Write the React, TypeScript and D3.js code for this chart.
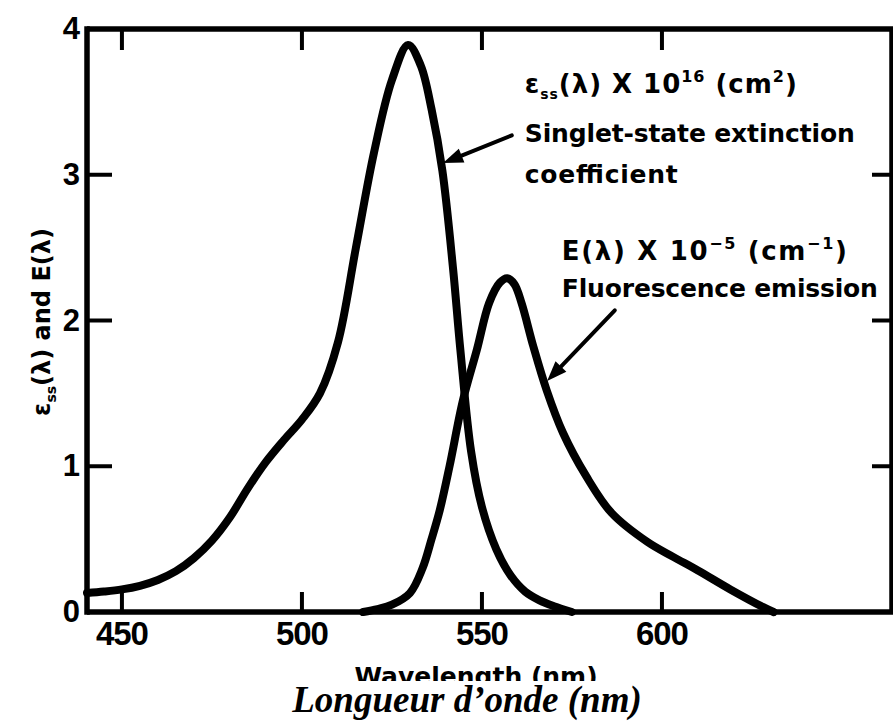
import React from "react";
import * as d3 from "d3";

// Singlet-state extinction coefficient  ε_ss(λ) × 10^16 (cm²)
const extLambda = [440.3, 445, 450, 455, 460, 465, 470, 475, 480, 485, 490, 495, 500, 505, 510, 515, 520, 525, 529.5, 533, 536, 539, 542, 544, 547, 550, 554, 558, 562, 566, 570, 575];
const extValue = [0.13, 0.14, 0.155, 0.18, 0.22, 0.28, 0.37, 0.49, 0.65, 0.85, 1.03, 1.18, 1.32, 1.5, 1.85, 2.5, 3.15, 3.65, 3.89, 3.75, 3.45, 3.03, 2.35, 1.8, 1.1, 0.72, 0.43, 0.25, 0.14, 0.08, 0.04, 0.0];

// Fluorescence emission  E(λ) × 10^-5 (cm^-1)
const emLambda = [517, 521, 525, 530, 533.5, 536, 538.3, 541, 544.7, 548.6, 552, 555, 557, 559, 561, 564.3, 568, 572.5, 579, 586, 596, 603, 610, 619, 628, 631];
const emValue = [0.0, 0.02, 0.05, 0.13, 0.3, 0.5, 0.7, 1.0, 1.45, 1.8, 2.12, 2.26, 2.29, 2.25, 2.12, 1.82, 1.52, 1.23, 0.93, 0.68, 0.48, 0.38, 0.285, 0.155, 0.035, 0.0];

const xTicks = [450, 500, 550, 600];
const yTicks = [0, 1, 2, 3, 4];

const W = 893;
const H = 721;

const x = d3.scaleLinear().domain([440.3, 663.9]).range([87, 892]);
const y = d3.scaleLinear().domain([0, 4]).range([612, 29]);

const line = d3
  .line<[number, number]>()
  .x((d) => x(d[0]))
  .y((d) => y(d[1]))
  .curve(d3.curveCatmullRom.alpha(0.5));

const extPath = line(extLambda.map((l, i) => [l, extValue[i]] as [number, number])) || "";
const emPath = line(emLambda.map((l, i) => [l, emValue[i]] as [number, number])) || "";

function Arrow({ x1, y1, x2, y2 }: { x1: number; y1: number; x2: number; y2: number }) {
  const ang = Math.atan2(y2 - y1, x2 - x1);
  const len = 20;
  const hw = 7.5;
  const bx = x2 - len * Math.cos(ang);
  const by = y2 - len * Math.sin(ang);
  const px = -Math.sin(ang) * hw;
  const py = Math.cos(ang) * hw;
  return (
    <g>
      <line x1={x1} y1={y1} x2={bx} y2={by} stroke="#000" strokeWidth={4} strokeLinecap="round" />
      <polygon points={`${x2},${y2} ${bx + px},${by + py} ${bx - px},${by - py}`} fill="#000" />
    </g>
  );
}

export default function App() {
  const sans = "'DejaVu Sans', sans-serif";
  const tickFont = "'Liberation Sans', Arial, sans-serif";
  const x0 = 87, x1 = 892, yTop = 29, yBot = 612;
  const a1x = x(561.9);
  const a2x = x(572.2);
  return (
    <svg width={W} height={H} style={{ position: "absolute", left: 0, top: 0, background: "#fff" }}>
      <defs>
        <clipPath id="figClip">
          <rect x={0} y={0} width={W} height={681} />
        </clipPath>
      </defs>
      <rect x={0} y={0} width={W} height={H} fill="#fff" />
      {/* frame */}
      <g stroke="#000" strokeWidth={5.5} fill="none">
        <line x1={x0} y1={yTop} x2={W + 5} y2={yTop} />
        <line x1={x0} y1={yBot} x2={W + 5} y2={yBot} />
        <line x1={x0} y1={yTop - 2.75} x2={x0} y2={yBot + 2.75} />
        <line x1={x1} y1={yTop} x2={x1} y2={yBot} />
      </g>
      {/* ticks */}
      <g stroke="#000" strokeWidth={4}>
        {xTicks.map((t) => (
          <g key={"xt" + t}>
            <line x1={x(t)} x2={x(t)} y1={yBot} y2={yBot - 20} />
            <line x1={x(t)} x2={x(t)} y1={yTop} y2={yTop + 21} />
          </g>
        ))}
        {yTicks
          .filter((t) => t > 0 && t < 4)
          .map((t) => (
            <g key={"yt" + t}>
              <line x1={x0} x2={x0 + 25} y1={y(t)} y2={y(t)} />
              <line x1={x1} x2={x1 - 20} y1={y(t)} y2={y(t)} />
            </g>
          ))}
      </g>
      {/* tick labels */}
      <g fontFamily={tickFont} fontWeight="bold" fill="#000">
        {xTicks.map((t) => (
          <text key={"xl" + t} x={x(t)} y={645} fontSize={33} textAnchor="middle" letterSpacing={-1}>
            {t}
          </text>
        ))}
        {yTicks.map((t) => (
          <text key={"yl" + t} x={80} y={y(t) + 10} fontSize={31} textAnchor="end">
            {t}
          </text>
        ))}
      </g>
      {/* curves */}
      <path d={extPath} fill="none" stroke="#000" strokeWidth={8} strokeLinejoin="round" strokeLinecap="round" />
      <path d={emPath} fill="none" stroke="#000" strokeWidth={8} strokeLinejoin="round" strokeLinecap="round" />
      {/* arrows */}
      <Arrow x1={x(558.3)} y1={y(3.27)} x2={x(539.2)} y2={y(3.08)} />
      <Arrow x1={x(586.9)} y1={y(2.07)} x2={x(568.1)} y2={y(1.585)} />
      {/* annotations */}
      <g fontFamily={sans} fontWeight="bold" fill="#000">
        <text x={a1x} y={y(3.561)} fontSize={26} textLength={272} lengthAdjust="spacing">
          <tspan>ε</tspan>
          <tspan fontSize={14} dy={6}>ss</tspan>
          <tspan dy={-6}>(λ) X 10</tspan>
          <tspan fontSize={16} dy={-11}>16</tspan>
          <tspan dy={11}> (cm</tspan>
          <tspan fontSize={16} dy={-11}>2</tspan>
          <tspan dy={11}>)</tspan>
        </text>
        <text x={a1x} y={y(3.225)} fontSize={25} textLength={330} lengthAdjust="spacing">
          Singlet-state extinction
        </text>
        <text x={a1x} y={y(2.943)} fontSize={25} textLength={153} lengthAdjust="spacing">
          coefficient
        </text>
        <text x={a2x} y={y(2.415)} fontSize={26} textLength={285} lengthAdjust="spacing">
          <tspan>E(λ) X 10</tspan>
          <tspan fontSize={16} dy={-11}>−5</tspan>
          <tspan dy={11}> (cm</tspan>
          <tspan fontSize={16} dy={-11}>−1</tspan>
          <tspan dy={11}>)</tspan>
        </text>
        <text x={a2x} y={y(2.161)} fontSize={25} textLength={316} lengthAdjust="spacing">
          Fluorescence emission
        </text>
      </g>
      {/* y axis label */}
      <text
        transform="translate(50,322) rotate(-90)"
        textAnchor="middle"
        fontFamily={sans}
        fontWeight="bold"
        fontSize={24}
        fill="#000"
      >
        <tspan>ε</tspan>
        <tspan fontSize={14} dy={6}>ss</tspan>
        <tspan dy={-6}>(λ) and E(λ)</tspan>
      </text>
      {/* x axis label, cut off at the bottom edge of the scanned figure */}
      <g clipPath="url(#figClip)">
        <text x={476} y={685} textAnchor="middle" fontFamily={sans} fontWeight="bold" fontSize={25} fill="#000">
          Wavelength (nm)
        </text>
      </g>
      <text
        x={467}
        y={712}
        textAnchor="middle"
        fontFamily="'Liberation Serif', 'Times New Roman', serif"
        fontWeight="bold"
        fontStyle="italic"
        fontSize={37}
        fill="#000"
      >
        Longueur d’onde (nm)
      </text>
    </svg>
  );
}
